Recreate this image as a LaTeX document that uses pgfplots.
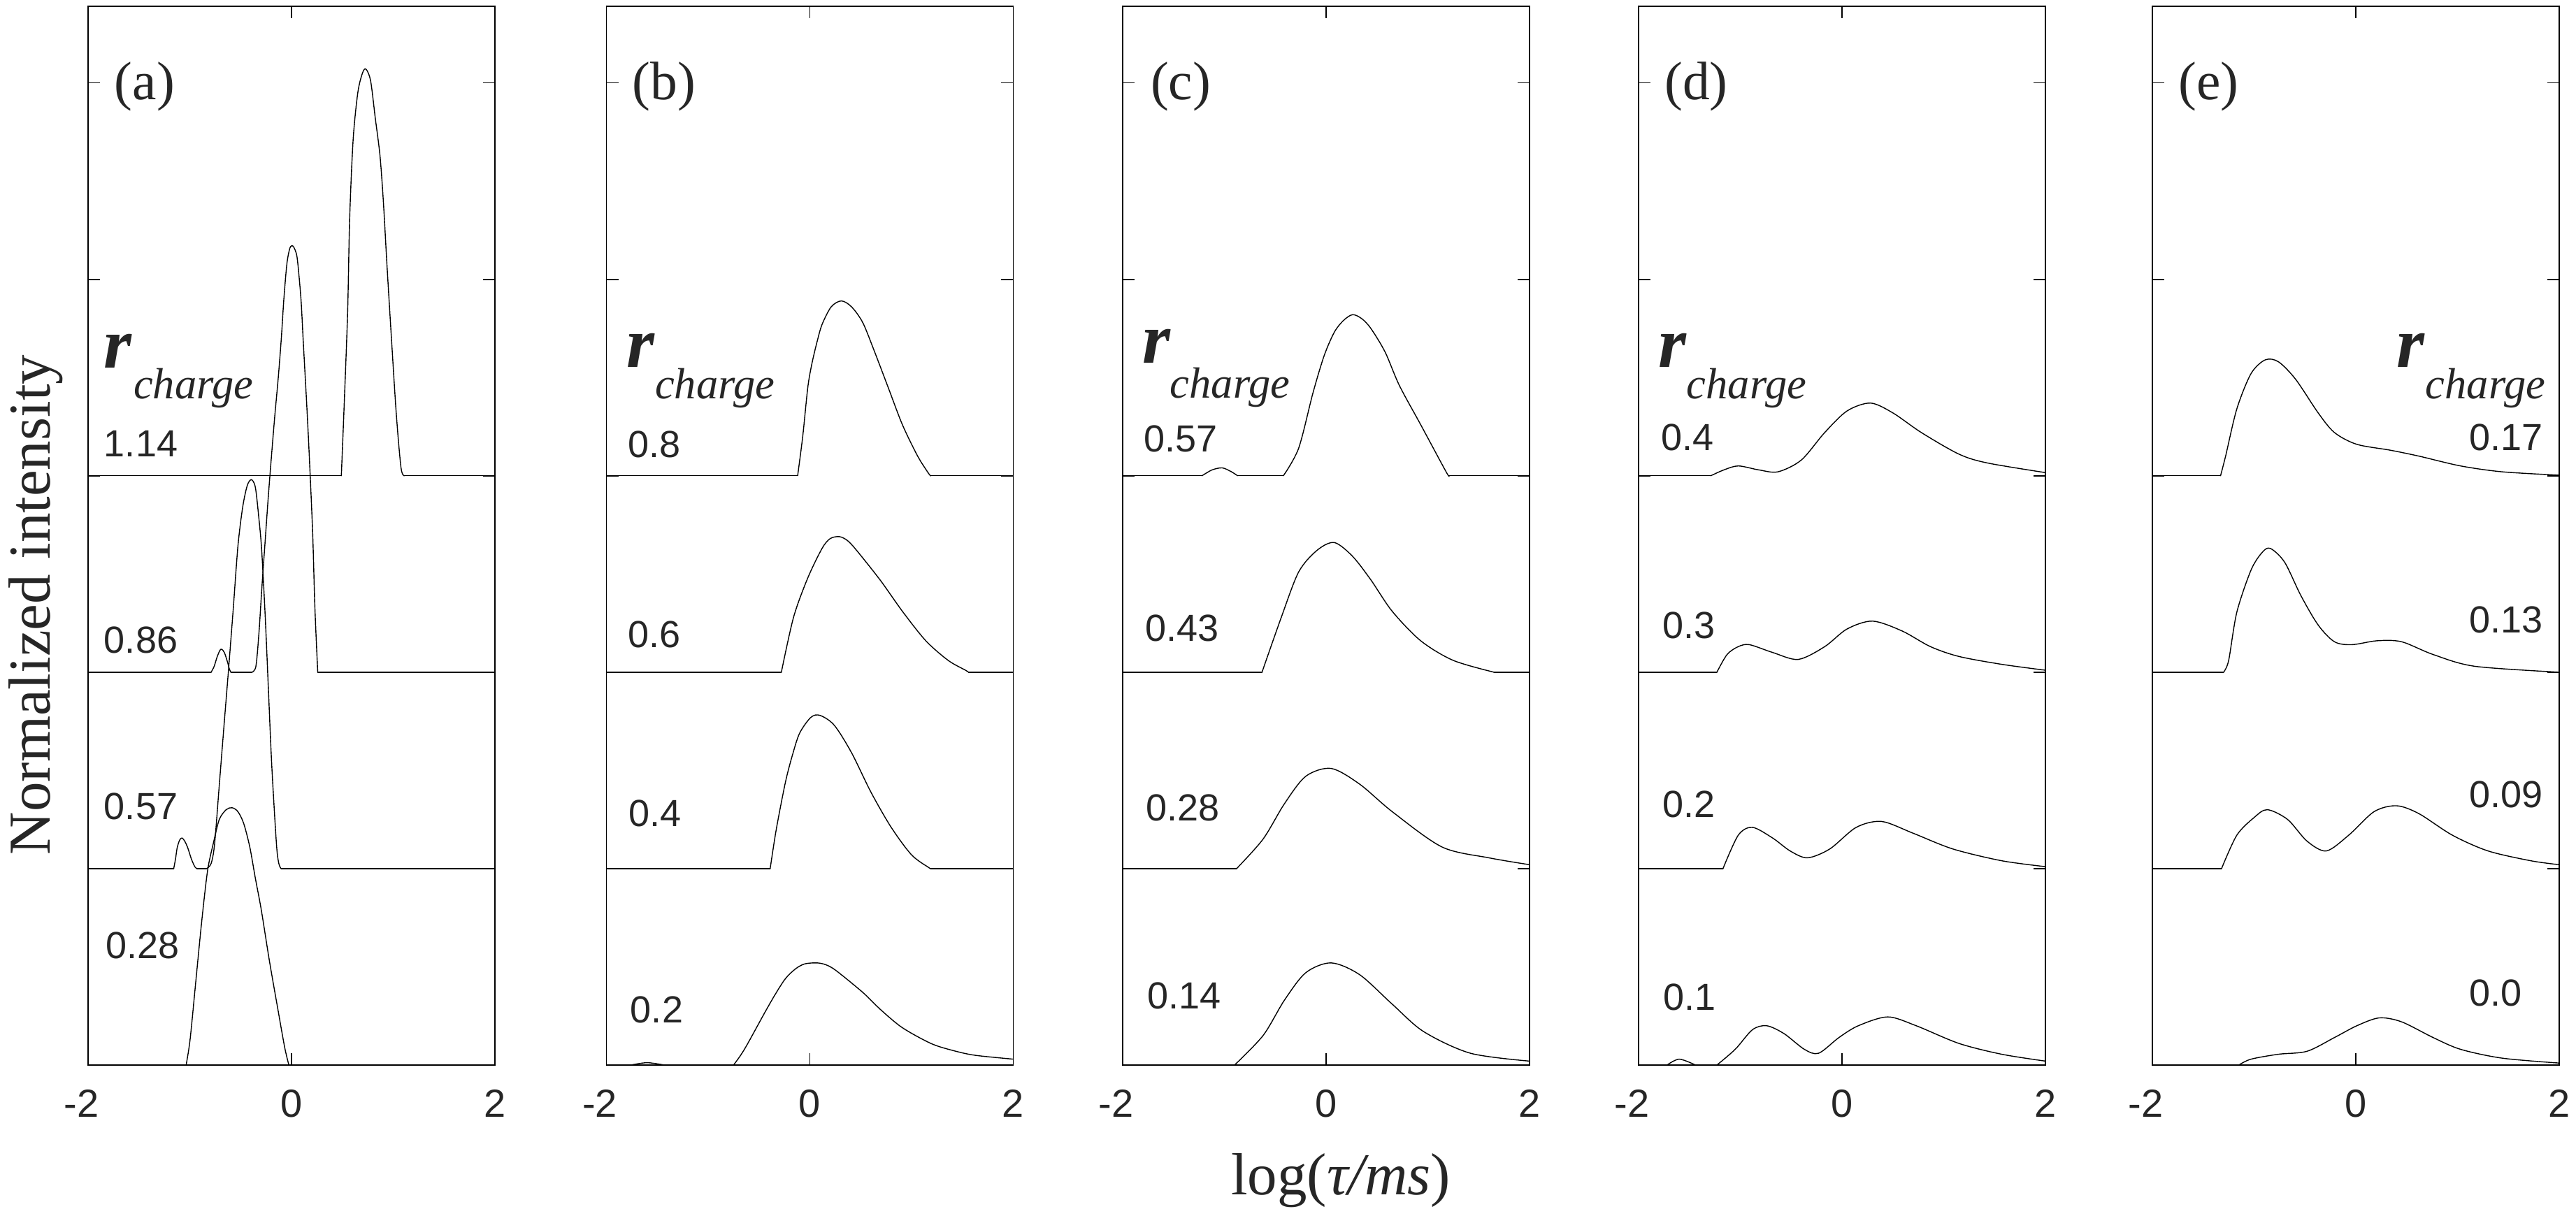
\documentclass[border=0pt]{standalone}
\usepackage{pgfplots}
\pgfplotsset{compat=1.18}
\usepackage{fontspec}
\setmainfont{Liberation Serif}
\newfontfamily\arial{Liberation Sans}
\newcommand\tickfont{\arial\fontsize{11.2}{13}\selectfont}
\newcommand\numfont{\arial\fontsize{10.8}{12.5}\selectfont}
\newcommand\rfont{\fontsize{20.5}{24}\selectfont\bfseries\itshape}
\newcommand\chfont{\fontsize{12.5}{14}\selectfont\itshape}
\newcommand\lblfont{\fontsize{15.5}{18}\selectfont}
\newcommand\axfont{\fontsize{17}{20}\selectfont}
\pgfplotsset{
  panel/.style={anchor=south west, scale only axis, width=116.4pt, height=303pt,
    xmin=-2, xmax=2, ymin=0, ymax=5.39,
    xtick={-2,0,2}, xticklabels={\llap{-}2,0,2},
    ytick={1,2,3,4,5}, yticklabels={},
    tick align=inside, major tick length=3.4pt, clip=false,
    axis line style={line width=0.35pt},
    every tick/.style={line width=0.35pt, black},
    xticklabel style={font=\tickfont, inner sep=0pt, yshift=-6.8pt, text=black!85}},
  curve/.style={black, line width=0.28pt, line join=round, line cap=round, mark=none, smooth, tension=0.5},
  flat/.style={black, line width=0.28pt, line cap=round, mark=none, sharp plot},
}
\tikzset{
  num/.style={anchor=base west, inner sep=0pt, font=\numfont, text=black!85},
  nume/.style={anchor=base east, inner sep=0pt, font=\numfont, text=black!85},
  rr/.style={anchor=base west, inner sep=0pt, font=\rfont, text=black!85},
  ch/.style={anchor=base west, inner sep=0pt, font=\chfont, text=black!85},
  lbl/.style={anchor=west, inner sep=0pt, font=\lblfont, text=black!85},
}
\begin{document}
\begin{tikzpicture}
\useasboundingbox (0,0) rectangle (737pt,348pt);
% ---------------- (a)
\begin{axis}[panel, at={(25.2pt,43.2pt)}]
% r = 1.14
\addplot[flat] coordinates {(-2,3) (0.49,3)};
\addplot[curve] coordinates {(0.49,3) (0.518,3.36) (0.552,3.835) (0.572,4.31) (0.606,4.71) (0.652,4.95) (0.698,5.05) (0.732,5.07) (0.778,5.01) (0.824,4.82) (0.87,4.63) (0.904,4.39) (0.939,4.07) (0.985,3.68) (1.031,3.31) (1.077,3.04) (1.11,3)};
\addplot[flat] coordinates {(1.11,3) (2,3)};
% r = 0.86
\addplot[flat] coordinates {(-2,2) (-0.79,2)};
\addplot[curve] coordinates {(-0.79,2) (-0.76,2.03) (-0.733,2.075) (-0.705,2.11) (-0.687,2.117) (-0.66,2.1) (-0.63,2.053) (-0.61,2.015) (-0.596,2)};
\addplot[flat] coordinates {(-0.596,2) (-0.389,2)};
\addplot[curve] coordinates {(-0.389,2) (-0.35,2.03) (-0.32,2.2) (-0.29,2.44) (-0.26,2.66) (-0.23,2.88) (-0.2,3.08) (-0.165,3.3) (-0.13,3.5) (-0.10,3.7) (-0.075,3.9) (-0.045,4.08) (-0.015,4.16) (0.012,4.17) (0.035,4.15) (0.058,4.1) (0.093,3.9) (0.116,3.68) (0.15,3.36) (0.175,3.1) (0.208,2.71) (0.23,2.33) (0.258,2)};
\addplot[flat] coordinates {(0.258,2) (2,2)};
% r = 0.57
\addplot[flat] coordinates {(-2,1) (-1.158,1)};
\addplot[curve] coordinates {(-1.158,1) (-1.14,1.05) (-1.124,1.106) (-1.10,1.145) (-1.077,1.156) (-1.05,1.14) (-1.02,1.106) (-0.985,1.05) (-0.951,1.01) (-0.93,1)};
\addplot[flat] coordinates {(-0.93,1) (-0.836,1)};
\addplot[curve] coordinates {(-0.836,1) (-0.79,1.026) (-0.756,1.126) (-0.71,1.425) (-0.664,1.725) (-0.618,2.02) (-0.573,2.32) (-0.527,2.64) (-0.48,2.84) (-0.435,2.95) (-0.394,2.98) (-0.355,2.94) (-0.32,2.78) (-0.293,2.62) (-0.258,2.28) (-0.228,1.925) (-0.194,1.525) (-0.148,1.126) (-0.125,1.027) (-0.102,1)};
\addplot[flat] coordinates {(-0.102,1) (2,1)};
% r = 0.28
\addplot[curve] coordinates {(-1.036,0) (-0.997,0.13) (-0.94,0.43) (-0.883,0.73) (-0.825,0.99) (-0.768,1.13) (-0.71,1.25) (-0.642,1.30) (-0.584,1.31) (-0.527,1.29) (-0.47,1.23) (-0.41,1.11) (-0.355,0.95) (-0.297,0.79) (-0.217,0.53) (-0.136,0.29) (-0.067,0.09) (-0.026,0)};
\node[lbl] at (axis cs:-1.746,4.98) {(a)};
\node[rr] at (axis cs:-1.849,3.548) {r};
\node[ch] at (axis cs:-1.56,3.391) {charge};
\node[num] at (axis cs:-1.849,3.096) {1.14};
\node[num] at (axis cs:-1.849,2.096) {0.86};
\node[num] at (axis cs:-1.849,1.249) {0.57};
\node[num] at (axis cs:-1.835,0.541) {0.28};
\end{axis}
% ---------------- (b)
\begin{axis}[panel, at={(173.5pt,43.2pt)}]
% r = 0.8
\addplot[flat] coordinates {(-2,3) (-0.12,3)};
\addplot[curve] coordinates {(-0.12,3) (-0.07,3.2) (-0.02,3.45) (0.02,3.57) (0.07,3.68) (0.12,3.77) (0.21,3.86) (0.31,3.89) (0.41,3.86) (0.52,3.78) (0.63,3.64) (0.77,3.45) (0.91,3.26) (1.06,3.10) (1.17,3.01) (1.19,3)};
\addplot[flat] coordinates {(1.19,3) (2,3)};
% r = 0.6
\addplot[flat] coordinates {(-2,2) (-0.28,2)};
\addplot[curve] coordinates {(-0.28,2) (-0.16,2.28) (-0.02,2.48) (0.12,2.63) (0.20,2.68) (0.29,2.69) (0.37,2.67) (0.46,2.62) (0.69,2.47) (0.91,2.31) (1.14,2.16) (1.36,2.06) (1.53,2.01) (1.56,2)};
\addplot[flat] coordinates {(1.56,2) (2,2)};
% r = 0.4
\addplot[flat] coordinates {(-2,1) (-0.39,1)};
\addplot[curve] coordinates {(-0.39,1) (-0.33,1.20) (-0.24,1.44) (-0.17,1.58) (-0.10,1.69) (0.01,1.77) (0.10,1.78) (0.24,1.73) (0.41,1.59) (0.60,1.39) (0.80,1.21) (1.00,1.07) (1.17,1.005) (1.19,1)};
\addplot[flat] coordinates {(1.19,1) (2,1)};
% r = 0.2
\addplot[curve] coordinates {(-1.76,0) (-1.6,0.012) (-1.43,0)};
\addplot[curve] coordinates {(-0.75,0) (-0.68,0.05) (-0.61,0.11) (-0.44,0.27) (-0.34,0.36) (-0.24,0.44) (-0.14,0.49) (-0.05,0.515) (0.07,0.52) (0.16,0.51) (0.26,0.48) (0.52,0.37) (0.7,0.28) (0.91,0.19) (1.19,0.11) (1.4,0.075) (1.62,0.05) (2,0.03)};
\node[lbl] at (axis cs:-1.75,4.98) {(b)};
\node[rr] at (axis cs:-1.811,3.552) {r};
\node[ch] at (axis cs:-1.529,3.391) {charge};
\node[num] at (axis cs:-1.797,3.093) {0.8};
\node[num] at (axis cs:-1.797,2.125) {0.6};
\node[num] at (axis cs:-1.784,1.214) {0.4};
\node[num] at (axis cs:-1.77,0.214) {0.2};
\end{axis}
% ---------------- (c)
\begin{axis}[panel, at={(321.2pt,43.2pt)}]
% r = 0.57
\addplot[flat] coordinates {(-2,3) (-1.22,3)};
\addplot[curve] coordinates {(-1.22,3) (-1.12,3.03) (-1.02,3.04) (-0.93,3.02) (-0.87,3)};
\addplot[flat] coordinates {(-0.87,3) (-0.42,3)};
\addplot[curve] coordinates {(-0.42,3) (-0.27,3.14) (-0.13,3.42) (-0.02,3.61) (0.08,3.73) (0.17,3.79) (0.26,3.82) (0.35,3.80) (0.44,3.75) (0.58,3.63) (0.72,3.46) (0.93,3.26) (1.18,3.02) (1.21,3)};
\addplot[flat] coordinates {(1.21,3) (2,3)};
% r = 0.43
\addplot[flat] coordinates {(-2,2) (-0.63,2)};
\addplot[curve] coordinates {(-0.63,2) (-0.44,2.28) (-0.27,2.51) (-0.09,2.62) (0.08,2.66) (0.26,2.59) (0.44,2.47) (0.65,2.31) (0.93,2.16) (1.25,2.06) (1.65,2)};
\addplot[flat] coordinates {(1.65,2) (2,2)};
% r = 0.28
\addplot[flat] coordinates {(-2,1) (-0.88,1)};
\addplot[curve] coordinates {(-0.88,1) (-0.62,1.15) (-0.41,1.33) (-0.20,1.47) (0.05,1.51) (0.33,1.43) (0.65,1.29) (1.14,1.11) (1.60,1.055) (2,1.02)};
% r = 0.14
\addplot[curve] coordinates {(-0.90,0) (-0.62,0.15) (-0.41,0.33) (-0.20,0.47) (0.05,0.52) (0.33,0.46) (0.65,0.31) (0.96,0.17) (1.42,0.06) (2,0.02)};
\node[lbl] at (axis cs:-1.732,4.98) {(c)};
\node[rr] at (axis cs:-1.814,3.573) {r};
\node[ch] at (axis cs:-1.54,3.395) {charge};
\node[num] at (axis cs:-1.80,3.121) {0.57};
\node[num] at (axis cs:-1.787,2.157) {0.43};
\node[num] at (axis cs:-1.78,1.242) {0.28};
\node[num] at (axis cs:-1.766,0.285) {0.14};
\end{axis}
% ---------------- (d)
\begin{axis}[panel, at={(468.8pt,43.2pt)}]
% r = 0.4
\addplot[flat] coordinates {(-2,3) (-1.29,3)};
\addplot[curve] coordinates {(-1.29,3) (-1.16,3.03) (-1.02,3.05) (-0.82,3.03) (-0.63,3.02) (-0.40,3.08) (-0.17,3.22) (0.05,3.33) (0.28,3.37) (0.50,3.32) (0.78,3.22) (1.15,3.11) (1.43,3.065) (2,3.016)};
% r = 0.3
\addplot[flat] coordinates {(-2,2) (-1.23,2)};
\addplot[curve] coordinates {(-1.23,2) (-1.13,2.09) (-1.02,2.13) (-0.91,2.14) (-0.68,2.10) (-0.43,2.065) (-0.17,2.13) (0.05,2.22) (0.30,2.26) (0.59,2.21) (0.87,2.13) (1.15,2.08) (1.57,2.04) (2,2.01)};
% r = 0.2
\addplot[flat] coordinates {(-2,1) (-1.17,1)};
\addplot[curve] coordinates {(-1.17,1) (-1.02,1.17) (-0.88,1.21) (-0.68,1.155) (-0.51,1.09) (-0.34,1.055) (-0.12,1.10) (0.14,1.21) (0.39,1.24) (0.70,1.18) (1.09,1.10) (1.57,1.04) (2,1.01)};
% r = 0.1
\addplot[curve] coordinates {(-1.72,0) (-1.6,0.03) (-1.44,0)};
\addplot[curve] coordinates {(-1.23,0) (-1.05,0.08) (-0.88,0.18) (-0.74,0.20) (-0.57,0.16) (-0.37,0.08) (-0.23,0.06) (-0.03,0.14) (0.16,0.20) (0.45,0.245) (0.73,0.20) (1.15,0.11) (1.57,0.055) (2,0.02)};
\node[lbl] at (axis cs:-1.75,4.98) {(d)};
\node[rr] at (axis cs:-1.814,3.552) {r};
\node[ch] at (axis cs:-1.533,3.391) {charge};
\node[num] at (axis cs:-1.787,3.128) {0.4};
\node[num] at (axis cs:-1.773,2.171) {0.3};
\node[num] at (axis cs:-1.773,1.26) {0.2};
\node[num] at (axis cs:-1.76,0.278) {0.1};
\end{axis}
% ---------------- (e)
\begin{axis}[panel, at={(615.8pt,43.2pt)}]
% r = 0.17
\addplot[flat] coordinates {(-2,3) (-1.33,3)};
\addplot[curve] coordinates {(-1.33,3) (-1.28,3.10) (-1.17,3.34) (-1.03,3.52) (-0.89,3.59) (-0.76,3.58) (-0.59,3.49) (-0.37,3.32) (-0.21,3.22) (0.01,3.16) (0.34,3.13) (0.62,3.10) (1.03,3.05) (1.44,3.02) (2,3.003)};
% r = 0.13
\addplot[flat] coordinates {(-2,2) (-1.30,2)};
\addplot[curve] coordinates {(-1.30,2) (-1.25,2.06) (-1.17,2.305) (-1.03,2.52) (-0.92,2.61) (-0.84,2.63) (-0.70,2.56) (-0.54,2.39) (-0.37,2.24) (-0.21,2.155) (-0.04,2.14) (0.21,2.16) (0.45,2.155) (0.76,2.09) (1.17,2.03) (2,2)};
% r = 0.09
\addplot[flat] coordinates {(-2,1) (-1.32,1)};
\addplot[curve] coordinates {(-1.32,1) (-1.17,1.17) (-1.00,1.26) (-0.87,1.30) (-0.67,1.25) (-0.48,1.14) (-0.29,1.09) (-0.07,1.17) (0.18,1.29) (0.40,1.32) (0.62,1.28) (0.95,1.17) (1.30,1.09) (1.72,1.04) (2,1.02)};
% r = 0.0
\addplot[curve] coordinates {(-1.15,0) (-1.03,0.03) (-0.76,0.055) (-0.48,0.07) (-0.21,0.14) (0.01,0.20) (0.23,0.24) (0.45,0.22) (0.76,0.14) (1.03,0.08) (1.44,0.035) (2,0.01)};
\node[lbl] at (axis cs:-1.75,4.98) {(e)};
\node[rr] at (axis cs:0.392,3.552) {r};
\node[ch] at (axis cs:0.680,3.391) {charge};
\node[nume] at (axis cs:1.849,3.128) {0.17};
\node[nume] at (axis cs:1.849,2.199) {0.13};
\node[nume] at (axis cs:1.849,1.310) {0.09};
\node[num] at (axis cs:1.107,0.299) {0.0};
\end{axis}
\node[rotate=90, inner sep=0pt, font=\axfont, text=black!85] at (10.3pt,174.9pt) {Normalized intensity};
\node[anchor=base, inner sep=0pt, font=\axfont, text=black!85] at (383.6pt,6pt) {log(\textit{τ/ms})};
\end{tikzpicture}
\end{document}
